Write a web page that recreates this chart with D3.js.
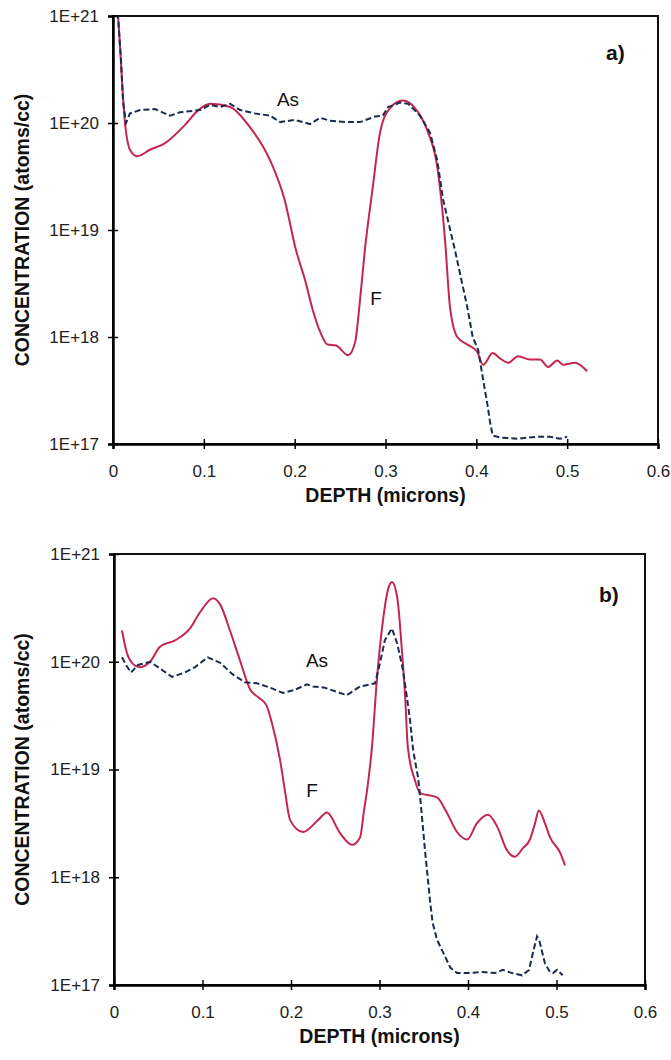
<!DOCTYPE html>
<html>
<meta charset="utf-8">
<style>
body { margin: 0; background: #fff; }
svg { display: block; font-family: "Liberation Sans", Arial, sans-serif; }
.tick text { font-size: 17px; fill: #222; }
.title { font-size: 19.5px; font-weight: bold; fill: #111; }
.lbl { font-size: 19px; fill: #111; }
.tag { font-size: 21px; font-weight: bold; fill: #111; }
.f-line { fill: none; stroke: #c4264f; stroke-width: 2px; }
.as-line { fill: none; stroke: #1b2c4f; stroke-width: 2px; stroke-dasharray: 6,3; }
</style>
<body>
<script src="https://cdnjs.cloudflare.com/ajax/libs/d3/7.8.5/d3.min.js"></script>
<script>

// tick values shared by both panels
var depthTicks = [0, 0.1, 0.2, 0.3, 0.4, 0.5, 0.6];
var concTicks = [1e17, 1e18, 1e19, 1e20, 1e21];

// panel a) - fluorine
var aDepthF = [0.004, 0.0055, 0.0132, 0.0187, 0.0264, 0.0407, 0.057, 0.079, 0.094, 0.107, 0.129, 0.149, 0.173, 0.189,
  0.2015, 0.2115, 0.220, 0.228, 0.236, 0.2455, 0.259, 0.2665, 0.272, 0.2775, 0.286, 0.294, 0.305, 0.319, 0.3325, 0.346,
  0.357, 0.3655, 0.371, 0.379, 0.390, 0.401, 0.4075, 0.418, 0.426, 0.435, 0.446, 0.459, 0.470, 0.479, 0.489, 0.4955,
  0.5085, 0.522];
var aConcF = [1.41e21, 1.0e21, 1.0e20, 5.62e19, 4.90e19, 5.62e19, 6.46e19, 9.55e19, 1.32e20, 1.51e20, 1.41e20, 9.55e19,
  4.47e19, 1.91e19, 6.46e18, 3.39e18, 1.78e18, 1.12e18, 8.51e17, 8.32e17, 6.76e17, 8.91e17, 2.24e18, 6.76e18, 2.51e19,
  8.13e19, 1.38e20, 1.62e20, 1.38e20, 8.51e19, 3.89e19, 8.13e18, 1.91e18, 1.0e18, 8.51e17, 7.24e17, 5.50e17, 7.08e17,
  6.31e17, 5.75e17, 6.61e17, 6.17e17, 6.17e17, 5.25e17, 6.03e17, 5.50e17, 5.75e17, 4.79e17];

// panel a) - arsenic
var aDepthAs = [0.004, 0.0055, 0.0088, 0.011, 0.0143, 0.0187, 0.0297, 0.0462, 0.0628, 0.0738, 0.0958, 0.107, 0.118,
  0.129, 0.140, 0.156, 0.173, 0.184, 0.200, 0.217, 0.228, 0.239, 0.2555, 0.272, 0.2885, 0.297, 0.303, 0.316, 0.325,
  0.338, 0.349, 0.357, 0.3635, 0.3765, 0.390, 0.396, 0.402, 0.4075, 0.412, 0.415, 0.418, 0.426, 0.445, 0.467, 0.481,
  0.492, 0.500];
var aConcAs = [1.58e21, 1.0e21, 3.89e20, 1.62e20, 1.0e20, 1.23e20, 1.32e20, 1.35e20, 1.17e20, 1.26e20, 1.32e20, 1.48e20,
  1.41e20, 1.51e20, 1.32e20, 1.23e20, 1.17e20, 1.02e20, 1.07e20, 9.77e19, 1.12e20, 1.05e20, 1.02e20, 1.02e20, 1.15e20,
  1.17e20, 1.41e20, 1.55e20, 1.51e20, 1.17e20, 8.13e19, 4.47e19, 1.91e19, 6.46e18, 1.91e18, 1.0e18, 7.59e17, 3.98e17,
  2.40e17, 1.62e17, 1.20e17, 1.15e17, 1.12e17, 1.17e17, 1.17e17, 1.12e17, 1.17e17];

// panel b) - fluorine
var bDepthF = [0.009, 0.0147, 0.0203, 0.0294, 0.0407, 0.052, 0.069, 0.0859, 0.0972, 0.112, 0.120, 0.131, 0.142, 0.154,
  0.163, 0.172, 0.1785, 0.1876, 0.193, 0.199, 0.2136, 0.2305, 0.2407, 0.2554, 0.269, 0.278, 0.2825, 0.286, 0.2915,
  0.297, 0.304, 0.3096, 0.314, 0.320, 0.325, 0.329, 0.332, 0.340, 0.346, 0.365, 0.376, 0.3876, 0.399, 0.410, 0.4226,
  0.433, 0.444, 0.453, 0.462, 0.470, 0.4757, 0.480, 0.487, 0.4927, 0.504, 0.5096];
var bConcF = [1.95e20, 1.20e20, 9.77e19, 8.91e19, 1.0e20, 1.38e20, 1.58e20, 2.04e20, 2.88e20, 3.89e20, 3.39e20, 1.95e20,
  1.05e20, 5.50e19, 4.68e19, 3.98e19, 2.69e19, 1.23e19, 6.46e18, 3.39e18, 2.63e18, 3.39e18, 3.98e18, 2.57e18, 2.00e18,
  2.34e18, 4.17e18, 6.46e18, 1.62e19, 6.76e19, 2.45e20, 4.68e20, 5.50e20, 3.98e20, 1.38e20, 4.68e19, 1.62e19, 7.94e18,
  6.03e18, 5.50e18, 3.98e18, 2.63e18, 2.24e18, 3.16e18, 3.80e18, 2.95e18, 1.78e18, 1.55e18, 1.86e18, 2.24e18, 3.16e18,
  4.17e18, 3.16e18, 2.34e18, 1.70e18, 1.29e18];

// panel b) - arsenic
var bDepthAs = [0.009, 0.0136, 0.0192, 0.027, 0.0407, 0.0497, 0.0655, 0.080, 0.0915, 0.106, 0.120, 0.1345, 0.148,
  0.1616, 0.1763, 0.191, 0.2045, 0.218, 0.225, 0.238, 0.2554, 0.263, 0.278, 0.295, 0.3006, 0.306, 0.314, 0.320, 0.3266,
  0.331, 0.3345, 0.338, 0.3435, 0.346, 0.3514, 0.357, 0.360, 0.365, 0.372, 0.380, 0.3876, 0.402, 0.417, 0.4305, 0.4395,
  0.4497, 0.461, 0.469, 0.4734, 0.478, 0.481, 0.487, 0.4927, 0.496, 0.5006, 0.507];
var bConcAs = [1.10e20, 9.33e19, 7.94e19, 9.33e19, 1.0e20, 8.91e19, 7.24e19, 7.94e19, 8.91e19, 1.10e20, 9.77e19, 7.59e19,
  6.46e19, 6.31e19, 5.75e19, 5.13e19, 5.50e19, 6.17e19, 5.89e19, 5.75e19, 5.13e19, 4.90e19, 5.89e19, 6.31e19, 9.77e19,
  1.58e20, 2.04e20, 1.48e20, 8.32e19, 4.68e19, 2.88e19, 1.51e19, 8.51e18, 5.50e18, 1.78e18, 6.17e17, 3.80e17, 2.63e17,
  2.00e17, 1.45e17, 1.29e17, 1.29e17, 1.32e17, 1.29e17, 1.38e17, 1.29e17, 1.23e17, 1.38e17, 2.00e17, 2.82e17, 2.51e17,
  1.58e17, 1.32e17, 1.29e17, 1.38e17, 1.23e17];

var svg = d3.select("body").append("svg")
    .attr("width", 671)
    .attr("height", 1060);

function zip(xs, ys) {
  return xs.map(function(d, i) { return {depth: d, conc: ys[i]}; });
}

function drawPanel(p) {
  var x = d3.scaleLinear().domain([0, 0.6]).range([p.left, p.right]);
  var y = d3.scaleLog().domain([1e17, 1e21]).range([p.bottom, p.top]);

  var clipId = "clip-" + p.name;
  svg.append("clipPath").attr("id", clipId)
    .append("rect")
      .attr("x", p.left).attr("y", p.top)
      .attr("width", p.right - p.left).attr("height", p.bottom - p.top);

  // frame (top and right sides)
  svg.append("rect")
      .attr("x", p.left).attr("y", p.top)
      .attr("width", p.right - p.left).attr("height", p.bottom - p.top)
      .attr("fill", "none").attr("stroke", "#111").attr("stroke-width", 2);

  var fLine = d3.line()
      .x(function(d) { return x(d.depth); })
      .y(function(d) { return y(d.conc); })
      .curve(d3.curveMonotoneX);
  var asLine = d3.line()
      .x(function(d) { return x(d.depth); })
      .y(function(d) { return y(d.conc); });

  var g = svg.append("g").attr("clip-path", "url(#" + clipId + ")");
  g.append("path").datum(zip(p.depthF, p.concF)).attr("class", "f-line").attr("d", fLine);
  g.append("path").datum(zip(p.depthAs, p.concAs)).attr("class", "as-line").attr("d", asLine);

  // X axis
  svg.append("g")
      .attr("transform", "translate(0," + p.bottom + ")")
      .call(d3.axisBottom(x).tickValues(depthTicks).tickSize(5).tickPadding(16)
        .tickFormat(function(d) { return d === 0 ? "0" : d3.format(".1f")(d); }))
      .call(function(a) {
        a.select(".domain").attr("stroke", "#000").attr("stroke-width", 2.5);
        a.selectAll(".tick line").attr("y1", -5).attr("stroke", "#000").attr("stroke-width", 1.5);
      });

  // Y axis
  svg.append("g")
      .attr("transform", "translate(" + p.left + ",0)")
      .call(d3.axisLeft(y).tickValues(concTicks).tickSize(5).tickPadding(9)
        .tickFormat(function(d) { return "1E+" + Math.round(Math.log10(d)); }))
      .call(function(a) {
        a.select(".domain").attr("stroke", "#000").attr("stroke-width", 2.5);
        a.selectAll(".tick line").attr("x1", 5).attr("stroke", "#000").attr("stroke-width", 1.5);
      });

  // axis titles
  svg.append("text").attr("class", "title")
      .attr("x", (p.left + p.right) / 2).attr("y", p.bottom + 58)
      .attr("text-anchor", "middle")
      .text("DEPTH (microns)");
  svg.append("text").attr("class", "title")
      .attr("transform", "translate(29," + (p.top + p.bottom) / 2 + ") rotate(-90)")
      .attr("text-anchor", "middle")
      .text("CONCENTRATION (atoms/cc)");

  // curve labels and panel tag
  svg.append("text").attr("class", "lbl").attr("text-anchor", "middle")
      .attr("x", p.asLabel[0]).attr("y", p.asLabel[1]).text("As");
  svg.append("text").attr("class", "lbl").attr("text-anchor", "middle")
      .attr("x", p.fLabel[0]).attr("y", p.fLabel[1]).text("F");
  svg.append("text").attr("class", "tag")
      .attr("x", p.tag[0]).attr("y", p.tag[1]).text(p.name + ")");
}

drawPanel({
  name: "a", left: 113, right: 658, top: 16, bottom: 444,
  depthF: aDepthF, concF: aConcF, depthAs: aDepthAs, concAs: aConcAs,
  asLabel: [288, 106], fLabel: [376, 305], tag: [606, 60]
});

drawPanel({
  name: "b", left: 114, right: 645, top: 554, bottom: 985,
  depthF: bDepthF, concF: bConcF, depthAs: bDepthAs, concAs: bConcAs,
  asLabel: [317, 667], fLabel: [312, 797], tag: [599, 602]
});

</script>
</body>
</html>
